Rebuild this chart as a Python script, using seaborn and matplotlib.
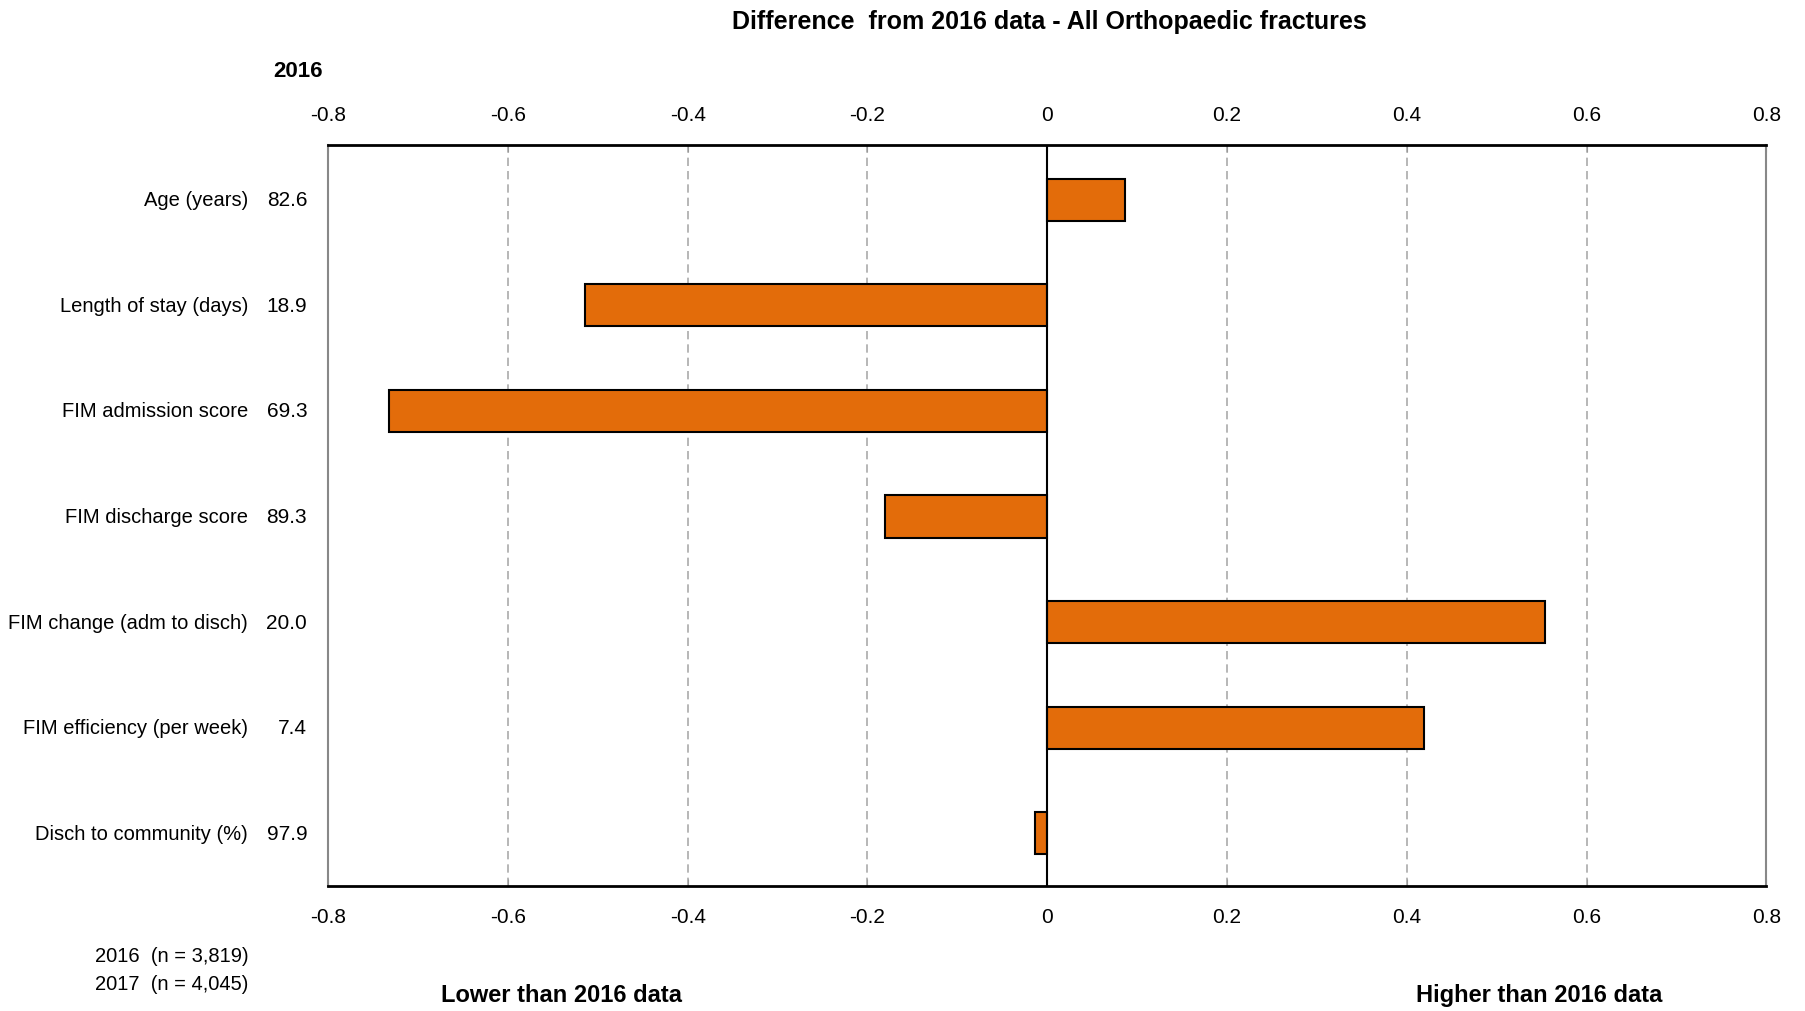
import matplotlib
matplotlib.use('Agg')

import pandas as pd
import matplotlib.pyplot as plt
import seaborn as sns

# values
measures = ['Age (years)', 'Length of stay (days)', 'FIM admission score',
            'FIM discharge score', 'FIM change (adm to disch)',
            'FIM efficiency (per week)', 'Disch to community (%)']
values_2016 = ['82.6', '18.9', '69.3', '89.3', '20.0', '7.4', '97.9']
difference = [0.087, -0.514, -0.732, -0.181, 0.554, 0.419, -0.014]
xticks = [-0.8, -0.6, -0.4, -0.2, 0, 0.2, 0.4, 0.6, 0.8]
xtick_labels = ['-0.8', '-0.6', '-0.4', '-0.2', '0', '0.2', '0.4', '0.6', '0.8']

df = pd.DataFrame({'measure': measures, 'diff': difference})

sns.set_style('white')
plt.rcParams['font.family'] = ['Liberation Sans Narrow', 'Liberation Sans', 'DejaVu Sans']
plt.rcParams['text.color'] = 'black'
plt.rcParams['xtick.labelcolor'] = 'black'

fig = plt.figure(figsize=(18.06, 10.12), dpi=100)
ax = fig.add_axes([0.1817, 0.1235, 0.7963, 0.7325])

sns.barplot(data=df, y='measure', x='diff', orient='h', color='#E36C0A',
            saturation=1, width=0.4, edgecolor='black', linewidth=1.5, ax=ax)

ax.set_xlim(-0.8, 0.8)
ax.set_ylim(6.5, -0.52)
ax.set_xticks(xticks)
ax.set_xticklabels(xtick_labels)
ax.set_xlabel('')
ax.set_ylabel('')
ax.set_yticks([])

# grid lines and zero line
for t in xticks[1:-1]:
    if t == 0:
        ax.axvline(0, color='black', lw=1.5, zorder=3)
    else:
        ax.axvline(t, color='#aaaaaa', lw=1.2, ls=(0, (5, 3)), zorder=0)

ax.tick_params(axis='x', top=True, bottom=True, labeltop=True, labelbottom=True,
               direction='in', length=5, color='#999999', labelsize=15, pad=15)

for s in ['top', 'bottom']:
    ax.spines[s].set_color('black')
    ax.spines[s].set_linewidth(2)
for s in ['left', 'right']:
    ax.spines[s].set_color('#888888')
    ax.spines[s].set_linewidth(1.5)

# category labels and 2016 values
for i, (m, v) in enumerate(zip(measures, values_2016)):
    ax.annotate(m, xy=(0, i), xycoords=('axes fraction', 'data'),
                xytext=(-80, 0), textcoords='offset pixels',
                ha='right', va='center', fontsize=14.5)
    ax.annotate(v, xy=(0, i), xycoords=('axes fraction', 'data'),
                xytext=(-21, 0), textcoords='offset pixels',
                ha='right', va='center', fontsize=15)

fig.text(0.581, 0.978, 'Difference  from 2016 data - All Orthopaedic fractures',
         ha='center', va='center', fontsize=18, fontweight='bold')
fig.text(0.165, 0.929, '2016', ha='center', va='center', fontsize=16, fontweight='bold')

fig.text(0.1375, 0.0546, '2016  (n = 3,819)', ha='right', va='center', fontsize=14.5)
fig.text(0.1375, 0.0273, '2017  (n = 4,045)', ha='right', va='center', fontsize=14.5)
fig.text(0.311, 0.016, 'Lower than 2016 data', ha='center', va='center',
         fontsize=17, fontweight='bold')
fig.text(0.852, 0.016, 'Higher than 2016 data', ha='center', va='center',
         fontsize=17, fontweight='bold')

fig.savefig('out.png', dpi=100)
